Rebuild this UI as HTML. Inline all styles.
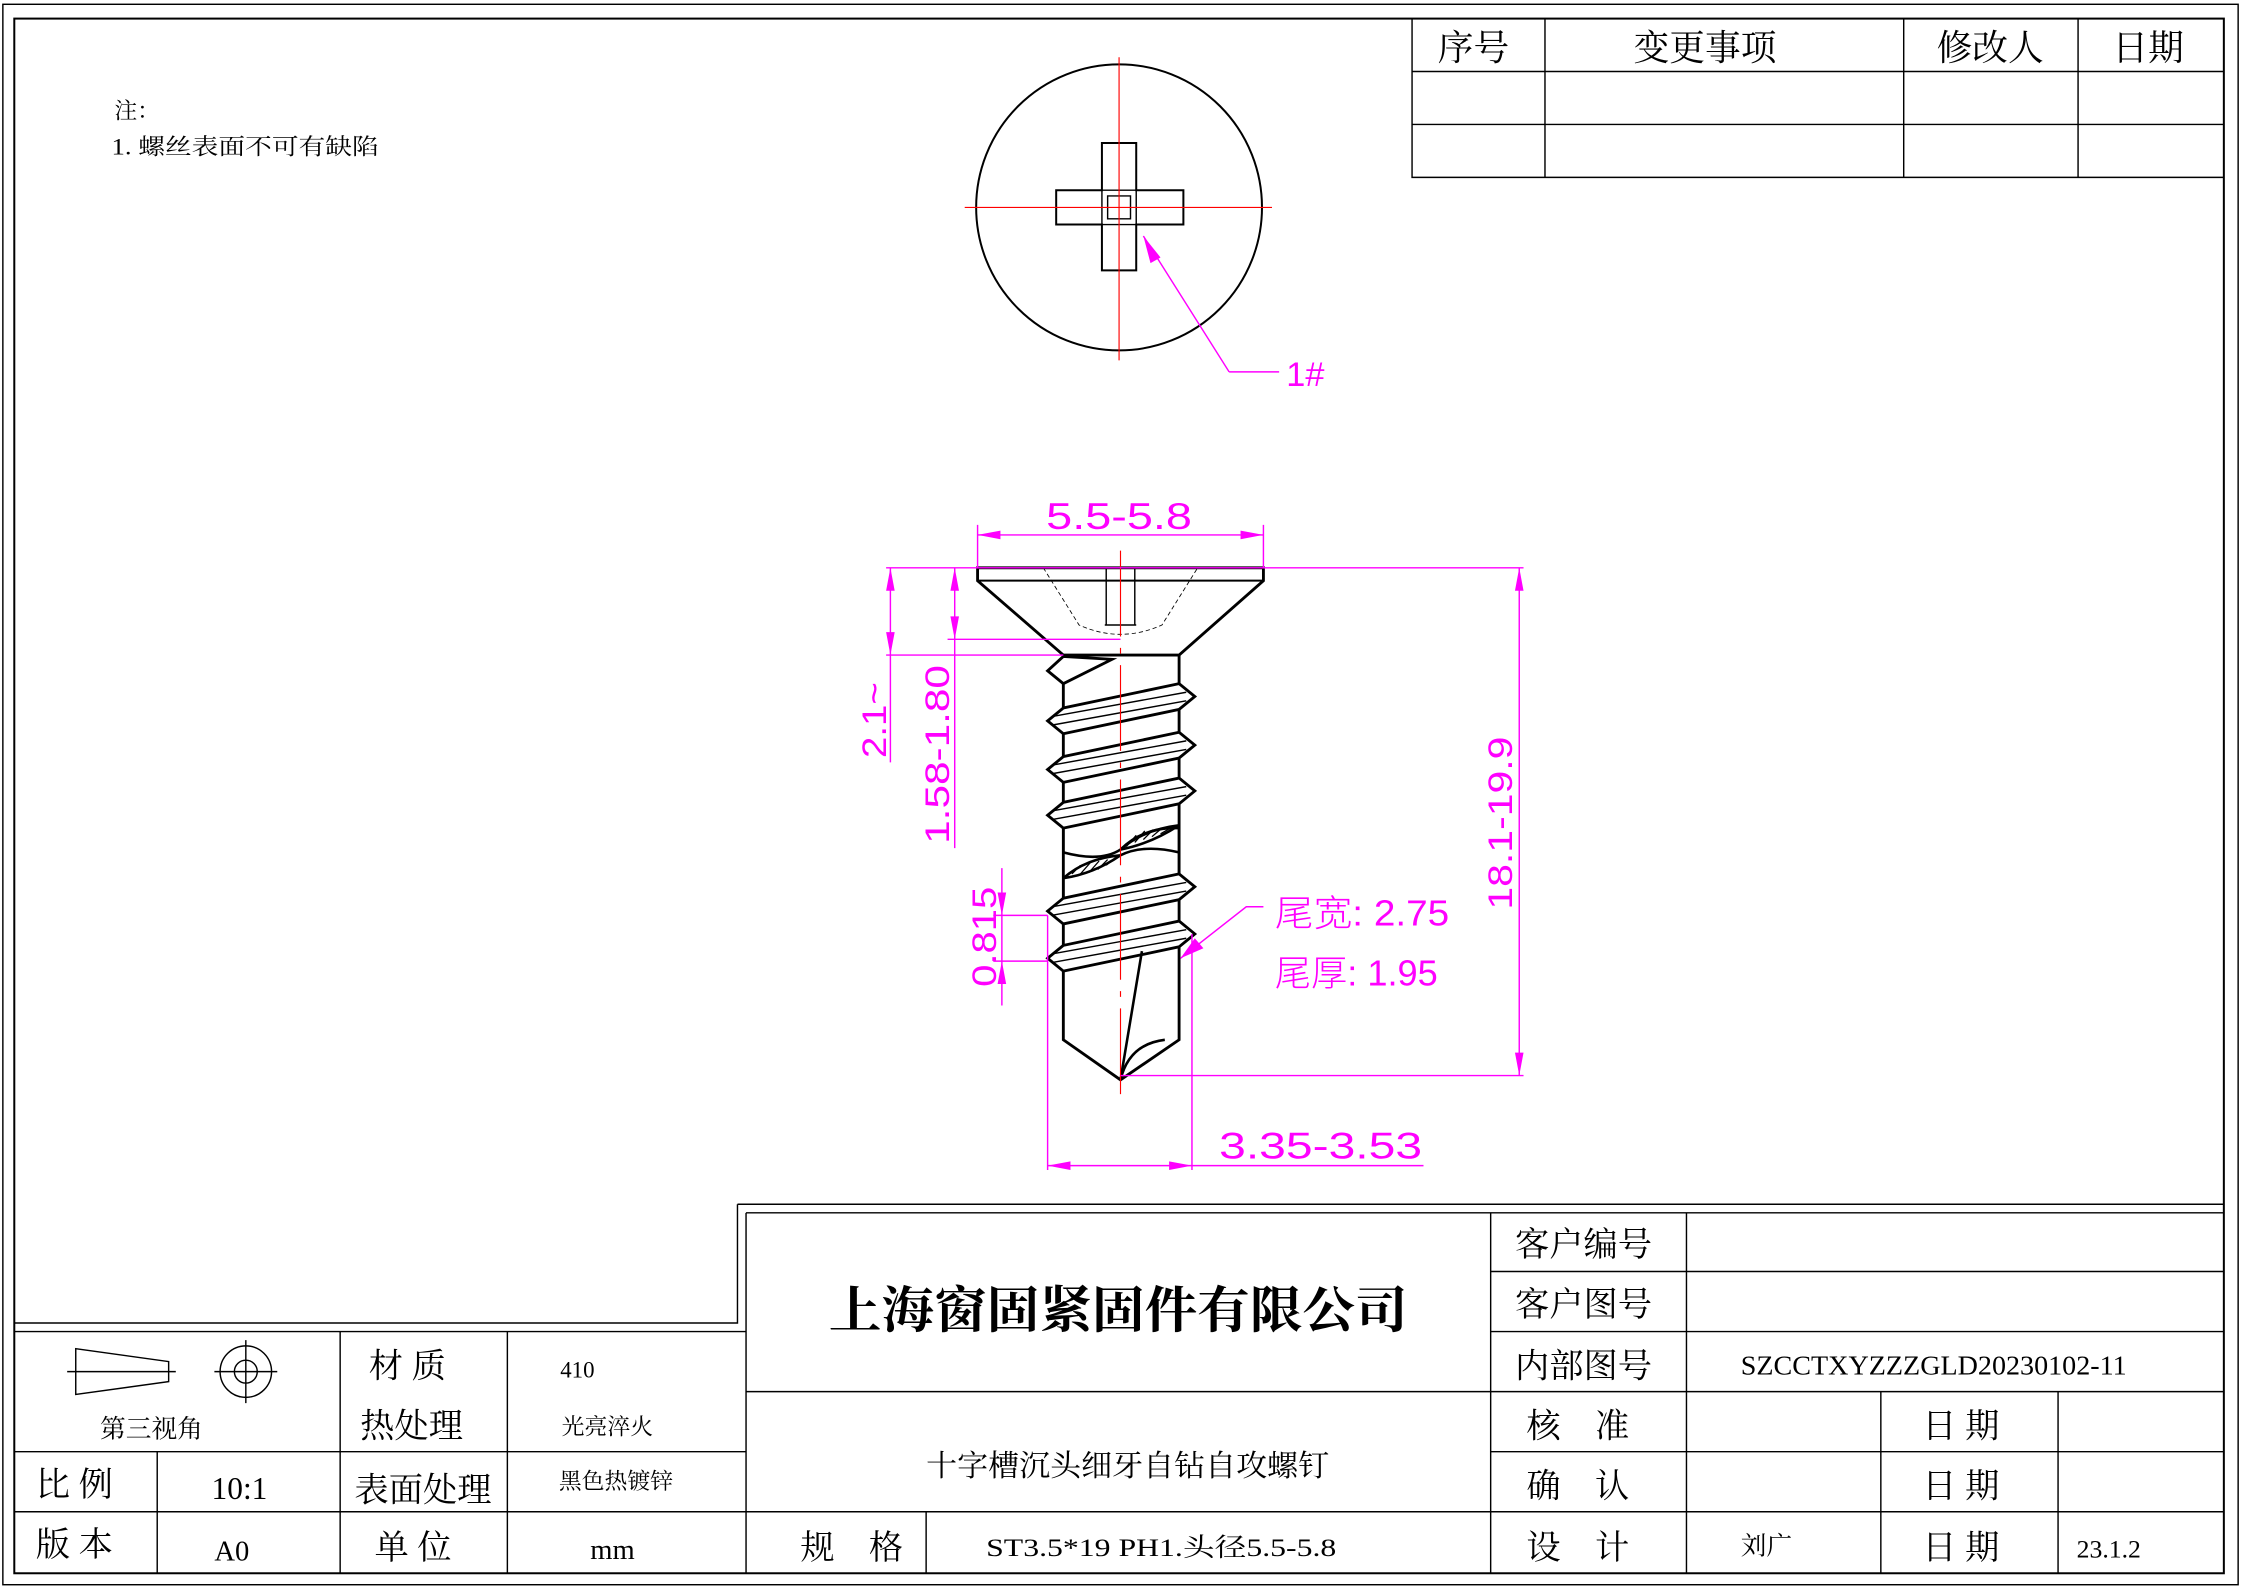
<!DOCTYPE html>
<html><head><meta charset="utf-8"><style>
html,body{margin:0;padding:0;background:#fff;}
svg{display:block;}
.s{font-family:"Liberation Serif","Noto Serif CJK SC",serif;fill:#000;}
.m{font-family:"Liberation Sans","Noto Sans CJK SC",sans-serif;fill:#ff00ff;font-weight:300;}
</style></head><body>
<svg width="2241" height="1589" viewBox="0 0 1568 1111" preserveAspectRatio="none" xmlns="http://www.w3.org/2000/svg">
<rect width="1568" height="1111" fill="#fff"/>
<g fill="none" stroke="#000" stroke-width="1">
<rect x="2" y="3" width="1564" height="1105"/>
<rect x="10" y="13" width="1546" height="1087" stroke-width="1.4"/>
<path d="M988 13V124H1556M988 50H1556M988 87H1556M1081 13V124M1332 13V124M1454 13V124"/>
<path d="M516 842H1556M516 842V925H10M522 848H1556M522 848V1100M10 931H522M10 1015H522M10 1057H1556M110 1015V1100M238 931V1100M355 931V1100M522 973H1556M1043 848V1100M1180 848V1100M1043 889H1556M1043 931H1556M1043 1015H1556M1316 973V1100M1440 973V1100M648 1057V1100"/>
<path d="M53 943L118 952V966L53 975Z M47 959H123"/>
<circle cx="172" cy="959" r="18"/><circle cx="172" cy="959" r="8"/>
<path d="M150 959H194M172 937V981"/>
</g>
<text class="s" x="80" y="83" font-size="16">注：</text>
<text class="s" x="78" y="108" font-size="16" textLength="187" lengthAdjust="spacingAndGlyphs">1. 螺丝表面不可有缺陷</text>
<g class="s" font-size="25">
<text x="1006" y="42">序号</text><text x="1143" y="42">变更事项</text><text x="1355" y="42">修改人</text><text x="1478" y="42">日期</text>
</g>
<text class="s" x="580" y="928" font-size="35" font-weight="bold" textLength="405" lengthAdjust="spacingAndGlyphs">上海窗固紧固件有限公司</text>
<g class="s" font-size="24">
<text x="1060" y="878">客户编号</text><text x="1060" y="920">客户图号</text><text x="1060" y="963">内部图号</text>
<text x="1068" y="1005">核　准</text><text x="1068" y="1047">确　认</text><text x="1068" y="1090">设　计</text>
<text x="1345" y="1005">日 期</text><text x="1345" y="1047">日 期</text><text x="1345" y="1090">日 期</text>
<text x="258" y="963">材 质</text><text x="252" y="1005">热处理</text><text x="248" y="1050">表面处理</text><text x="262" y="1090">单 位</text>
<text x="25" y="1046">比 例</text><text x="25" y="1088">版 本</text><text x="560" y="1090">规　格</text>
</g>
<g class="s" font-size="18">
<text x="1218" y="961" font-size="19" textLength="270" lengthAdjust="spacingAndGlyphs">SZCCTXYZZZGLD20230102-11</text>
<text x="70" y="1005">第三视角</text>
<text x="392" y="963" font-size="16">410</text>
<text x="393" y="1003" font-size="16">光亮淬火</text>
<text x="391" y="1041" font-size="16">黑色热镀锌</text>
<text x="148" y="1048" font-size="22">10:1</text>
<text x="150" y="1091" font-size="20">A0</text>
<text x="413" y="1090" font-size="20">mm</text>
<text x="648" y="1032" font-size="21" textLength="282" lengthAdjust="spacingAndGlyphs">十字槽沉头细牙自钻自攻螺钉</text>
<text x="690" y="1088" font-size="18" textLength="245" lengthAdjust="spacingAndGlyphs">ST3.5*19 PH1.头径5.5-5.8</text>
<text x="1218" y="1087">刘广</text>
<text x="1453" y="1089">23.1.2</text>
</g>
<g fill="none" stroke="#000" stroke-width="1.4">
<circle cx="783" cy="145" r="100"/>
<path d="M771 100H795V133H828V157H795V189H771V157H739V133H771Z"/>
<path d="M771 133V157H795V133Z M775 137H791V153H775Z" stroke-width="1"/>
</g>
<path d="M675 145H890M783 40V252" stroke="#ff0000" stroke-width="0.8"/>
<path d="M860 260L800 165M860 260H895" stroke="#ff00ff" fill="none"/>
<path d="M800 165L812 180L805 184Z" fill="#ff00ff"/>
<text class="m" x="900" y="270" font-size="24">1#</text>
<g fill="none" stroke="#000" stroke-width="2">
<path d="M684 397H884V406L825 458H744L684 406Z"/>
<path d="M684 406H884" stroke-width="1.4"/>
<path d="M744 458V727L784 755L825 727V458"/>
</g>
<g fill="none" stroke="#000" stroke-width="0.6" stroke-dasharray="3 2">
<path d="M730 397L755 437Q784 450 813 437L838 397"/>
</g>
<path d="M774 397V437M794 397V437M773 437H795" stroke="#000" stroke-width="1" fill="none"/>
<g fill="#fff" stroke="#000" stroke-width="2">
<path d="M744 459L733 469L744 478L778 461Z"/>
<path d="M744 495L733 504L744 513L825 496L836 487L825 478Z"/>
<path d="M744 529L733 538L744 547L825 530L836 521L825 512Z"/>
<path d="M744 561L733 570L744 579L825 562L836 553L825 544Z"/>
<path d="M744 628L733 637L744 646L825 629L836 620L825 611Z"/>
<path d="M744 661L733 670L744 679L825 662L836 653L825 644Z"/>
</g>
<g stroke="#000" stroke-width="1" fill="none">
<path d="M736 501L830 484M736 507L830 490M736 535L830 518M736 541L830 524M736 567L830 550M736 573L830 556M736 634L830 617M736 640L830 623M736 667L830 650M736 673L830 656"/>
</g>
<g stroke="#000" stroke-width="1.8" fill="none">
<path d="M744 579V596Q770 603 784 594Q800 578 825 579V596"/>
<path d="M744 614V628M825 596V612"/>
<path d="M744 614Q760 600 784 598Q800 590 825 596"/>
<path d="M744 614Q765 611 784 598"/>
<path d="M784 594Q800 580 825 577Q805 590 784 594"/>
</g>
<path d="M788 592L795 584M794 589L801 581M800 587L807 580M806 585L813 579M812 583L819 579M750 611L756 605M756 611L763 603M762 610L769 602M768 608L775 601M774 605L780 600" stroke="#000" stroke-width="0.9"/>
<path d="M799 665L784 755M784 755Q790 730 815 727" stroke="#000" stroke-width="1.8" fill="none"/>
<path d="M784 385V765" stroke="#ff0000" stroke-width="0.8" stroke-dasharray="60 8 4 8"/>
<g stroke="#ff00ff" stroke-width="1" fill="none">
<path d="M684 367V397M884 367V397M684 374H884"/>
<path d="M620 397H1066M620 458H744M663 447H784M784 752H1066"/>
<path d="M623 397V533M668 397V593M1063 397V752"/>
<path d="M701 607V703M695 640H733M695 672H733"/>
<path d="M733 640V818M834 653V818M733 815H996"/>
<path d="M826 670L872 634H884"/>
</g>
<g fill="#ff00ff">
<path d="M684 374L700 371V377ZM884 374L868 371V377Z"/>
<path d="M623 397L620 413H626ZM623 458L620 442H626Z"/>
<path d="M668 397L665 413H671ZM668 447L665 431H671Z"/>
<path d="M1063 397L1060 413H1066ZM1063 752L1060 736H1066Z"/>
<path d="M701 640L698 624H704ZM701 672L698 688H704Z"/>
<path d="M733 815L749 812V818ZM834 815L818 812V818Z"/>
<path d="M826 670L836 656L842 663Z"/>
</g>
<g class="m" font-size="26">
<text x="732" y="370" textLength="102" lengthAdjust="spacingAndGlyphs">5.5-5.8</text>
<text x="853" y="810" textLength="142" lengthAdjust="spacingAndGlyphs">3.35-3.53</text>
<text x="892" y="647" font-size="25" textLength="122" lengthAdjust="spacingAndGlyphs">尾宽: 2.75</text>
<text x="892" y="689" font-size="25" textLength="114" lengthAdjust="spacingAndGlyphs">尾厚: 1.95</text>
<text transform="translate(620 530) rotate(-90)" font-size="24" textLength="53" lengthAdjust="spacingAndGlyphs">2.1~</text>
<text transform="translate(664 590) rotate(-90)" font-size="24" textLength="125" lengthAdjust="spacingAndGlyphs">1.58-1.80</text>
<text transform="translate(1058 636) rotate(-90)" font-size="24" textLength="121" lengthAdjust="spacingAndGlyphs">18.1-19.9</text>
<text transform="translate(697 690) rotate(-90)" font-size="24" textLength="70" lengthAdjust="spacingAndGlyphs">0.815</text>
</g>
</svg>
</body></html>
